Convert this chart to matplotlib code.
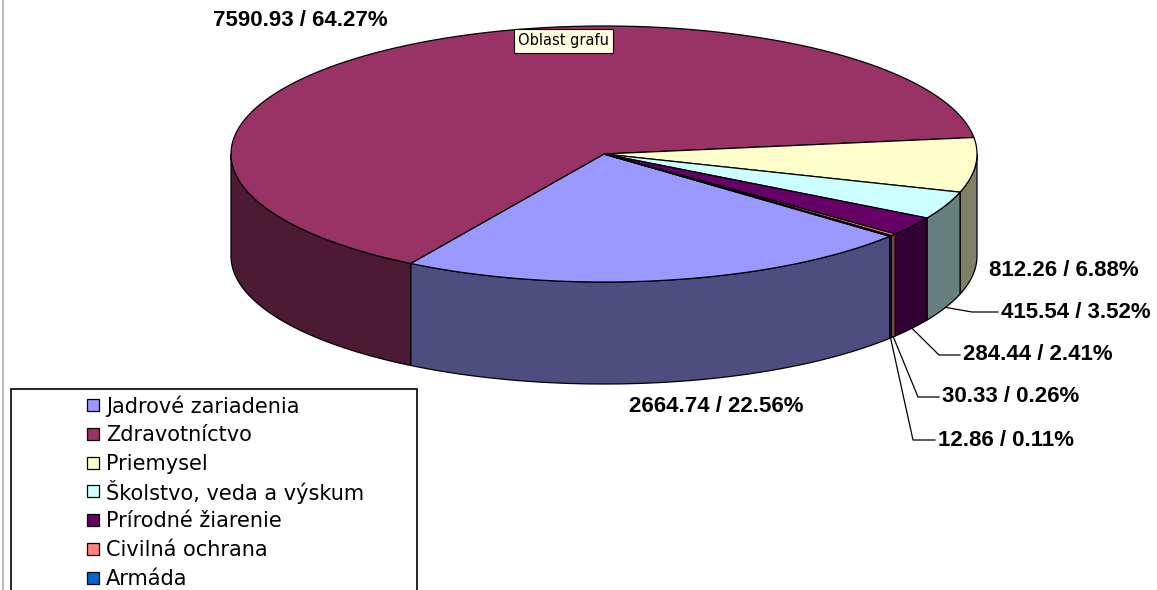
import numpy as np
import matplotlib
matplotlib.use("Agg")
from matplotlib import pyplot as plt
from matplotlib.patches import Polygon, Rectangle

# source share per sector
categories = ["Jadrové zariadenia", "Zdravotníctvo", "Priemysel",
              "Školstvo, veda a výskum", "Prírodné žiarenie",
              "Civilná ochrana", "Armáda"]
values = [2664.74, 7590.93, 812.26, 415.54, 284.44, 30.33, 12.86]
top_colors = ["#9999FF", "#993366", "#FFFFCC", "#CCFFFF", "#660066",
              "#FF8080", "#0066CC"]

# pie geometry in pixels
CX, CY = 604, 154
RX, RY = 373, 128
DEPTH = 102
START = -40.0  # first slice starts here and runs clockwise


def darker(hexcol, f=0.5):
    r, g, b = matplotlib.colors.to_rgb(hexcol)
    return (r * f, g * f, b * f)


def pt(t, dz=0):
    t = np.radians(t)
    return CX + RX * np.cos(t), CY - RY * np.sin(t) + dz


def arc(a, b, dz=0, n=None):
    if n is None:
        n = max(2, int(abs(b - a) * 2))
    ts = np.linspace(a, b, n)
    return [pt(t, dz) for t in ts]


fig = plt.figure(figsize=(11.57, 5.90), dpi=100)
ax = fig.add_axes([0, 0, 1, 1])
ax.set_xlim(0, 1157)
ax.set_ylim(590, 0)
ax.axis("off")

total = sum(values)
spans = [v / total * 360 for v in values]
bounds = []
hi = START
for s in spans:
    bounds.append((hi - s, hi))
    hi -= s

# outer wall, front half only
for (lo, hi), col in zip(bounds, top_colors):
    for k in (0, -360):
        a = max(lo, -180 + k)
        b = min(hi, 0 + k)
        if b > a:
            poly = arc(a, b) + arc(b, a, DEPTH)
            ax.add_patch(Polygon(poly, closed=True, fc=darker(col), ec="black",
                                 lw=0.9, joinstyle="miter"))

# top faces
for (lo, hi), col in zip(bounds, top_colors):
    poly = [(CX, CY)] + arc(hi, lo)
    ax.add_patch(Polygon(poly, closed=True, fc=col, ec="black", lw=0.9))

labels = ["%.2f / %.2f%%" % (v, v / total * 100) for v in values]
bold = dict(family="Liberation Sans", weight="bold", fontsize=16,
            color="black")

ax.text(716, 407, labels[0], ha="center", va="center", **bold)
ax.text(300, 21, labels[1], ha="center", va="center", **bold)
ax.text(989, 271, labels[2], ha="left", va="center", **bold)

# small slices get leader lines: (text x, text y, elbow x)
leaders = {3: (1001, 312, 972), 4: (963, 355, 939),
           5: (942, 397, 918), 6: (938, 440, 913)}
for i, (tx, ty, ex) in leaders.items():
    lo, hi = bounds[i]
    mid = (lo + hi) / 2
    sx, sy = pt(mid, DEPTH)
    ax.plot([sx, ex, tx - 3], [sy, ty, ty], color="black", lw=0.9)
    ax.text(tx, ty, labels[i], ha="left", va="center", **bold)

# legend box
ax.add_patch(Rectangle((10.5, 389), 406.5, 215, fc="white", ec="black",
                       lw=1.2))
for i, (name, col) in enumerate(zip(categories, top_colors)):
    y = 405 + i * 28.8
    ax.add_patch(Rectangle((87, y - 6), 12, 12, fc=col, ec="black", lw=0.9))
    ax.text(106, y + 1, name, ha="left", va="center", fontsize=15,
            family="DejaVu Sans", color="black")

# chart area tooltip
ax.text(518, 41, "Oblast grafu", ha="left", va="center", fontsize=10.5,
        family="DejaVu Sans",
        bbox=dict(boxstyle="square,pad=0.3", fc="#FFFFE1", ec="black", lw=0.8))

# chart area left border
ax.plot([2.5, 2.5], [0, 590], color="#BBBBBB", lw=1.5)

fig.savefig("out.png", dpi=100)
